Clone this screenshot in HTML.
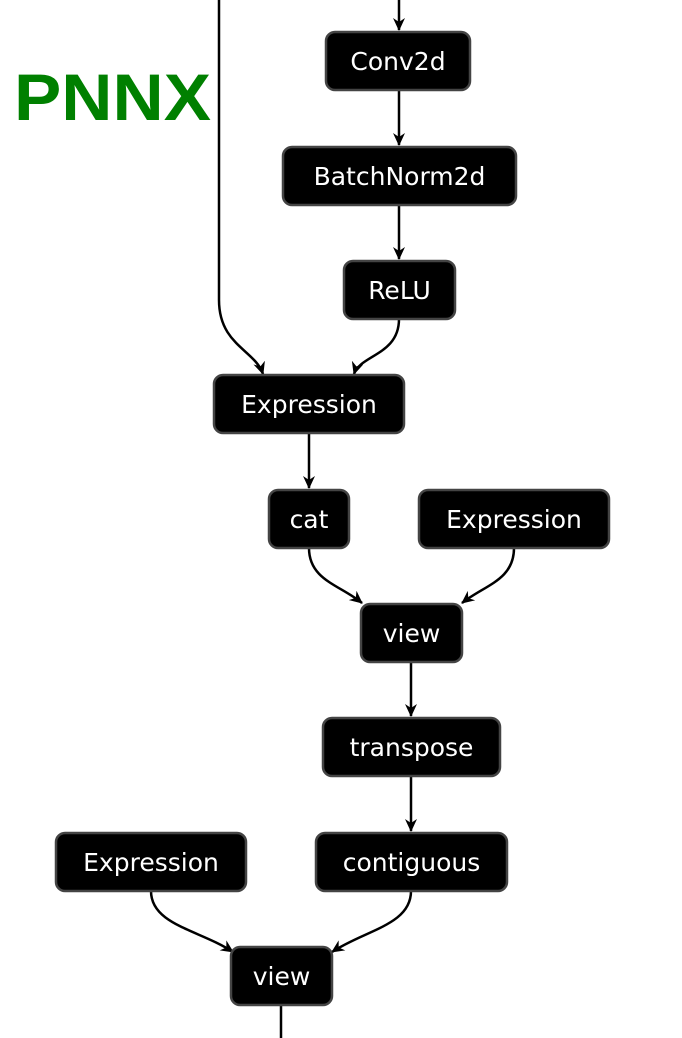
<!DOCTYPE html>
<html><head><meta charset="utf-8"><style>
html,body{margin:0;padding:0;background:#fff;width:682px;height:1038px;overflow:hidden}
</style></head><body>
<svg width="682" height="1038" viewBox="0 0 682 1038" xmlns="http://www.w3.org/2000/svg">
<defs>
<marker id="a" markerWidth="14" markerHeight="12" refX="12" refY="6" orient="auto" markerUnits="userSpaceOnUse">
<path d="M0,0 L13,6 L0,12 L4,6 Z" fill="#000"/>
</marker>
</defs>
<text x="14" y="120" font-family="Liberation Sans, sans-serif" font-weight="bold" font-size="66" fill="#008000" textLength="197" lengthAdjust="spacingAndGlyphs">PNNX</text>
<g fill="none" stroke="#000" stroke-width="2.5">
<path d="M399,0 V30" marker-end="url(#a)"/>
<path d="M399,90 V145" marker-end="url(#a)"/>
<path d="M399,205 V259" marker-end="url(#a)"/>
<path d="M219,0 V300 C219,345 255,350 263,374" marker-end="url(#a)"/>
<path d="M399,319 C399,355 360,355 354,374" marker-end="url(#a)"/>
<path d="M309,433 V488" marker-end="url(#a)"/>
<path d="M309,548 C309,580 340,585 362,603" marker-end="url(#a)"/>
<path d="M514,548 C514,580 485,585 462,603" marker-end="url(#a)"/>
<path d="M411,662 V716" marker-end="url(#a)"/>
<path d="M411,776 V831" marker-end="url(#a)"/>
<path d="M151,891 C151,925 200,930 233,952" marker-end="url(#a)"/>
<path d="M411,891 C411,925 365,930 332,952" marker-end="url(#a)"/>
<path d="M281,1005 V1038"/>
</g>
<g fill="#000" stroke="#444" stroke-width="2.5">
<rect x="326" y="32" width="144" height="58" rx="9"/>
<rect x="283" y="147" width="233" height="58" rx="9"/>
<rect x="344" y="261" width="111" height="58" rx="9"/>
<rect x="214" y="375" width="190" height="58" rx="9"/>
<rect x="269" y="490" width="80" height="58" rx="9"/>
<rect x="419" y="490" width="190" height="58" rx="9"/>
<rect x="361" y="604" width="101" height="58" rx="9"/>
<rect x="323" y="718" width="177" height="58" rx="9"/>
<rect x="56" y="833" width="190" height="58" rx="9"/>
<rect x="316" y="833" width="191" height="58" rx="9"/>
<rect x="231" y="947" width="101" height="58" rx="9"/>
</g>
<g fill="#fff" font-family="DejaVu Sans, sans-serif" font-size="25" text-anchor="middle">
<text x="398" y="70">Conv2d</text>
<text x="399.5" y="185">BatchNorm2d</text>
<text x="399.5" y="299">ReLU</text>
<text x="309" y="413">Expression</text>
<text x="309" y="528">cat</text>
<text x="514" y="528">Expression</text>
<text x="411.5" y="642">view</text>
<text x="411.5" y="756">transpose</text>
<text x="151" y="871">Expression</text>
<text x="411.5" y="871">contiguous</text>
<text x="281.5" y="985">view</text>
</g>
</svg>
</body></html>
